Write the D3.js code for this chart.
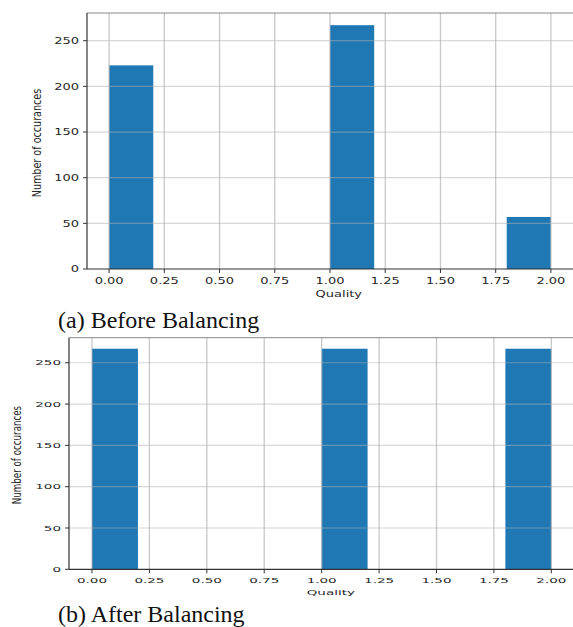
<!DOCTYPE html>
<html lang="en">
<head>
    <meta charset="UTF-8">
    <title>Quality histograms before and after balancing</title>
    <script src="https://d3js.org/d3.v7.min.js"></script>
    <style>
        body { margin: 0; background: #fff; }
        .tick-label { font-family: "DejaVu Sans", sans-serif; fill: #262626; }
        .caption { font-family: "Liberation Serif", "Times New Roman", serif; font-size: 24px; fill: #111; }
    </style>
</head>
<body>
    <svg id="chart" width="573" height="627"></svg>

    <script>
        // histogram of Quality, 10 bins between 0 and 2
        const binEdges = [0, 0.2, 0.4, 0.6, 0.8, 1.0, 1.2, 1.4, 1.6, 1.8, 2.0];
        const countsBefore = [223, 0, 0, 0, 0, 267, 0, 0, 0, 57];
        const countsAfter = [267, 0, 0, 0, 0, 267, 0, 0, 0, 267];
        const xTicks = [0, 0.25, 0.5, 0.75, 1.0, 1.25, 1.5, 1.75, 2.0];
        const yTicks = [0, 50, 100, 150, 200, 250];
        const captions = ["(a) Before Balancing", "(b) After Balancing"];

        const svg = d3.select("#chart");

        function drawHist(counts, p) {
            const x = d3.scaleLinear().domain([-0.1, 2.1]).range([p.left, p.right]);
            const y = d3.scaleLinear().domain([0, d3.max(counts) * 1.05]).range([p.bottom, p.top]);
            const g = svg.append("g");

            const bins = counts.map((c, i) => ({ x0: binEdges[i], x1: binEdges[i + 1], n: c })).filter(d => d.n > 0);
            g.selectAll("rect").data(bins).enter().append("rect")
                .attr("x", d => x(d.x0)).attr("width", d => x(d.x1) - x(d.x0))
                .attr("y", d => y(d.n)).attr("height", d => y(0) - y(d.n))
                .attr("fill", "#1f77b4");

            // grid sits above the bars (matplotlib default)
            g.selectAll(".vgrid").data(xTicks).enter().append("line")
                .attr("x1", d => x(d)).attr("x2", d => x(d)).attr("y1", p.top).attr("y2", p.bottom)
                .attr("stroke", "#b0b0b0").attr("stroke-opacity", 0.7).attr("stroke-width", 1.3);
            g.selectAll(".hgrid").data(yTicks.slice(1)).enter().append("line")
                .attr("x1", p.left).attr("x2", p.right).attr("y1", d => y(d)).attr("y2", d => y(d))
                .attr("stroke", "#b0b0b0").attr("stroke-opacity", 0.5).attr("stroke-width", 1.2);

            // spines
            g.append("line").attr("x1", p.left).attr("x2", p.right).attr("y1", p.top).attr("y2", p.top)
                .attr("stroke", "#888").attr("stroke-width", 1);
            g.append("line").attr("x1", p.left).attr("x2", p.left).attr("y1", p.top).attr("y2", p.bottom)
                .attr("stroke", "#333").attr("stroke-width", 1.2);
            g.append("line").attr("x1", p.left).attr("x2", p.right).attr("y1", p.bottom).attr("y2", p.bottom)
                .attr("stroke", "#333").attr("stroke-width", 1.2);

            // tick marks
            g.selectAll(".xt").data(xTicks).enter().append("line")
                .attr("x1", d => x(d)).attr("x2", d => x(d)).attr("y1", p.bottom).attr("y2", p.bottom + 4)
                .attr("stroke", "#333");
            g.selectAll(".yt").data(yTicks).enter().append("line")
                .attr("x1", p.left - 4).attr("x2", p.left).attr("y1", d => y(d)).attr("y2", d => y(d))
                .attr("stroke", "#333");

            // tick labels, squashed image => stretched horizontally
            g.selectAll(".xl").data(xTicks).enter().append("text")
                .attr("class", "tick-label").attr("text-anchor", "middle")
                .attr("font-size", p.fs)
                .attr("transform", d => `translate(${x(d)},${p.xlBase}) scale(${p.sx},1)`)
                .text(d => d.toFixed(2));
            g.selectAll(".yl").data(yTicks).enter().append("text")
                .attr("class", "tick-label").attr("text-anchor", "end")
                .attr("font-size", p.fs).attr("dy", "0.35em")
                .attr("transform", d => `translate(${p.left - 8},${y(d)}) scale(${p.sx},1)`)
                .text(d => d);

            g.append("text").attr("class", "tick-label").attr("text-anchor", "middle")
                .attr("font-size", p.fs)
                .attr("transform", `translate(${x(1.04)},${p.qBase}) scale(${p.sx},1)`)
                .text("Quality");
            g.append("text").attr("class", "tick-label").attr("text-anchor", "middle")
                .attr("font-size", p.yfs)
                .attr("transform", `translate(${p.ylx},${p.yly}) scale(${p.ysx},1) rotate(-90)`)
                .text("Number of occurances");

            svg.append("text").attr("class", "caption").attr("x", 58).attr("y", p.capBase).text(p.caption);
        }

        drawHist(countsBefore, {
            left: 87, right: 573, top: 13, bottom: 269,
            fs: 9.5, sx: 1.37, xlBase: 284, qBase: 297,
            yfs: 9.6, ysx: 1.25, ylx: 41, yly: 143,
            capBase: 328, caption: captions[0]
        });
        drawHist(countsAfter, {
            left: 69, right: 574.3, top: 337.7, bottom: 569.3,
            fs: 7.5, sx: 1.8, xlBase: 583, qBase: 595,
            yfs: 8.7, ysx: 1.45, ylx: 21, yly: 455,
            capBase: 622, caption: captions[1]
        });
    </script>
</body>
</html>
